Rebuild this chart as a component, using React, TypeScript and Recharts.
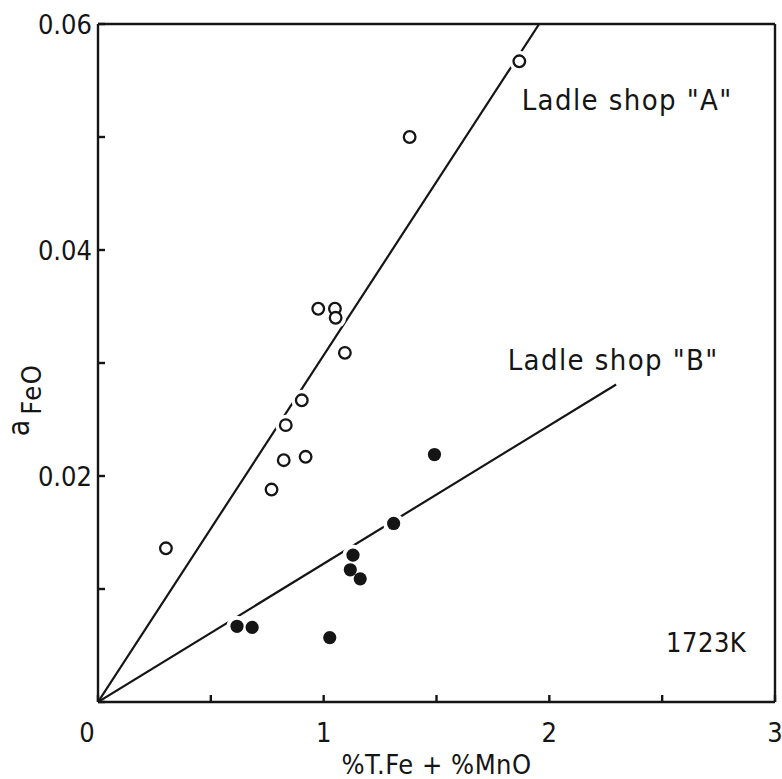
import React from 'react';
import { ScatterChart, Scatter, XAxis, YAxis, ReferenceDot } from 'recharts';

// shop A (open circles)
const shopAx = [0.301, 0.769, 0.823, 0.832, 0.903, 0.920, 0.976, 1.050, 1.053, 1.094, 1.381, 1.867];
const shopAy = [0.0136, 0.0188, 0.0214, 0.0245, 0.0267, 0.0217, 0.0348, 0.0348, 0.0340, 0.0309, 0.0500, 0.0567];
// shop B (filled circles)
const shopBx = [0.616, 0.683, 1.027, 1.118, 1.130, 1.162, 1.310, 1.491];
const shopBy = [0.0067, 0.0066, 0.0057, 0.0117, 0.0130, 0.0109, 0.0158, 0.0219];
// fitted lines through origin
const lineAx = [0, 1.955];
const lineAy = [0, 0.06];
const lineBx = [0, 2.296];
const lineBy = [0, 0.0281];

const xTicks = [0, 0.5, 1, 1.5, 2, 2.5, 3];
const yTicks = [0, 0.01, 0.02, 0.03, 0.04, 0.05, 0.06];

const zip = (xs: number[], ys: number[]) => xs.map((x, i) => ({ x, y: ys[i] }));
const shopA = zip(shopAx, shopAy);
const shopB = zip(shopBx, shopBy);
const lineA = zip(lineAx, lineAy);
const lineB = zip(lineBx, lineBy);

const INK = '#151515';
const FONT = '"DejaVu Sans Condensed", "DejaVu Sans", sans-serif';
const cond = { fontStretch: 'condensed' };

const Halo = (p: any) => <circle cx={p.cx} cy={p.cy} r={10.5} fill="#fff" />;
const OpenDot = (p: any) => <circle cx={p.cx} cy={p.cy} r={5.8} fill="#fff" stroke={INK} strokeWidth={2.3} />;
const FilledDot = (p: any) => <circle cx={p.cx} cy={p.cy} r={6.6} fill={INK} />;
const NoDot = () => <g />;

const XTick = (p: any) => {
  const v = p.payload.value;
  if (!Number.isInteger(v)) return <g />;
  return (
    <text x={p.x + (v === 0 ? -11 : 0)} y={p.y} dy="0.71em" textAnchor="middle" fill={INK} fontSize={27} fontFamily={FONT} style={cond}>
      {v}
    </text>
  );
};

const yFmt = (v: number) => {
  const k = Math.round(v * 100);
  return k > 0 && k % 2 === 0 ? v.toFixed(2) : '';
};

const YLabel = (p: any) => {
  const vb = p.viewBox || { x: 0, y: 24, width: 98, height: 678 };
  const cx = vb.x + 29;
  const cy = vb.y + vb.height / 2 + 37;
  return (
    <text x={cx} y={cy} transform={`rotate(-90, ${cx}, ${cy})`} textAnchor="middle" fill={INK} fontFamily={FONT} style={cond}>
      <tspan fontSize={30}>a</tspan>
      <tspan fontSize={27} dx={5} dy={12} letterSpacing={1.5}>FeO</tspan>
    </text>
  );
};

const axisStroke = { stroke: INK, strokeWidth: 2.4 };
const tickText = { fill: INK, fontSize: 27, fontFamily: FONT };
const noteStyle = { fill: INK, fontSize: 29, fontFamily: FONT, letterSpacing: 1.4, style: cond };

export default function App() {
  return (
    <div style={{ position: 'absolute', left: 0, top: 0, background: '#fff' }}>
      <ScatterChart width={782} height={779} margin={{ top: 20, right: 6, bottom: 0, left: 0 }}>
        <XAxis type="number" dataKey="x" domain={[0, 3]} ticks={xTicks} allowDataOverflow
          axisLine={axisStroke} tickLine={axisStroke} tickSize={-7} tickMargin={28} height={77}
          tick={<XTick />}
          label={{ value: '%T.Fe + %MnO', position: 'insideBottom', offset: 5, fill: INK, fontSize: 27, fontFamily: FONT, letterSpacing: 0.5, style: cond }} />
        <XAxis xAxisId="top" orientation="top" type="number" dataKey="x" domain={[0, 3]} ticks={xTicks} allowDataOverflow
          axisLine={axisStroke} tickLine={axisStroke} tickSize={-7} tick={false} height={4} />
        <YAxis type="number" dataKey="y" domain={[0, 0.06]} ticks={yTicks} allowDataOverflow
          axisLine={axisStroke} tickLine={axisStroke} tickSize={-7} tickMargin={13} width={98}
          tickFormatter={yFmt} tick={{ ...tickText, style: cond } as any}
          label={{ content: <YLabel /> } as any} />
        <YAxis yAxisId="right" orientation="right" type="number" dataKey="y" domain={[0, 0.06]} ticks={yTicks} allowDataOverflow
          axisLine={axisStroke} tickLine={axisStroke} tickSize={-7} tick={false} width={1} />

        <Scatter data={lineA} line={{ stroke: INK, strokeWidth: 2.2 }} lineType="joint" shape={<NoDot />} isAnimationActive={false} />
        <Scatter data={lineB} line={{ stroke: INK, strokeWidth: 2.2 }} lineType="joint" shape={<NoDot />} isAnimationActive={false} />
        <Scatter data={shopA} shape={<Halo />} isAnimationActive={false} />
        <Scatter data={shopB} shape={<Halo />} isAnimationActive={false} />
        <Scatter data={shopA} shape={<OpenDot />} isAnimationActive={false} />
        <Scatter data={shopB} shape={<FilledDot />} isAnimationActive={false} />

        <ReferenceDot x={2.345} y={0.0533} r={0} fill="none" stroke="none"
          label={{ value: 'Ladle shop "A"', position: 'center', ...noteStyle }} />
        <ReferenceDot x={2.283} y={0.0303} r={0} fill="none" stroke="none"
          label={{ value: 'Ladle shop "B"', position: 'center', ...noteStyle }} />
        <ReferenceDot x={2.695} y={0.0053} r={0} fill="none" stroke="none"
          label={{ value: '1723K', position: 'center', ...noteStyle, fontSize: 27, letterSpacing: 0.5 }} />
      </ScatterChart>
    </div>
  );
}
